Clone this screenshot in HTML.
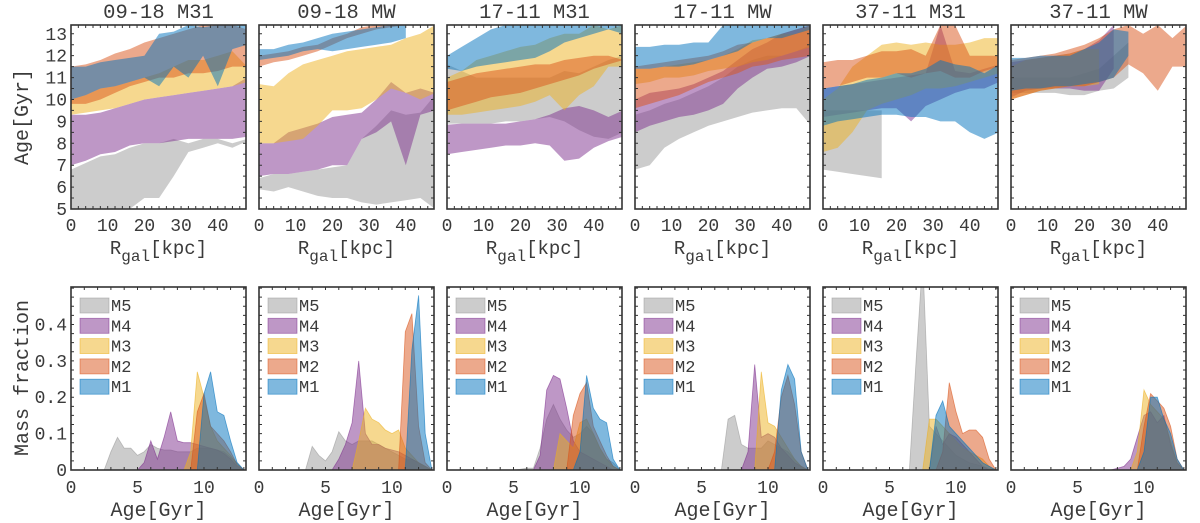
<!DOCTYPE html>
<html><head><meta charset="utf-8"><style>
html,body{margin:0;padding:0;background:#fff;}
svg{display:block;font-family:"Liberation Mono","DejaVu Sans Mono",monospace;}
</style></head><body>
<svg id="fig" width="1200" height="523" viewBox="0 0 1200 523" xmlns="http://www.w3.org/2000/svg"></svg>
<script>
const panelTitles = ["09-18 M31","09-18 MW","17-11 M31","17-11 MW","37-11 M31","37-11 MW"];
const models = ["M1","M2","M3","M4","M5"];
const colors = {M1:"#0072BD",M2:"#D95319",M3:"#EDB120",M4:"#7E2F8E",M5:"#999999"};
const radii = [0,4,8,12,16,20,24,28,32,36,40,44,48];
const N = null;
const ageLo = [
 [[10.0,10.2,10.5,10.6,10.8,11.0,10.6,11.5,11.0,12.0,10.6,12.3,12.5],
  [9.8,9.8,10.0,10.3,10.6,10.8,11.0,11.0,11.2,11.2,11.3,11.5,11.5],
  [9.3,9.4,9.5,9.6,9.8,10.0,10.1,10.2,10.3,10.4,10.5,10.6,10.8],
  [7.0,7.2,7.5,7.6,7.9,8.0,8.0,8.1,8.2,8.2,8.2,8.2,8.3],
  [5,5,5,5,5,5.5,5.5,6.5,7.6,7.8,8.0,7.8,8.1]],
 [[11.8,11.9,12.0,12.2,12.3,12.2,12.3,12.4,12.5,12.6,12.8,N,N],
  [11.5,11.7,11.8,12.0,12.2,12.5,12.8,13.0,13.2,13.3,13.4,13.4,13.4],
  [8.0,8.0,8.1,8.2,8.8,9.5,9.5,9.6,10.0,10.5,10.3,10.0,10.3],
  [6.5,6.6,6.6,6.7,6.8,7.0,7.0,8.2,8.5,9.0,7.0,9.3,9.5],
  [5.9,5.8,6.0,5.8,5.6,5.5,5.5,5.3,5.2,5.3,5.4,5.5,5.0]],
 [[11.4,11.3,11.5,11.6,11.7,11.8,11.9,12.2,12.6,12.8,13.0,13.2,13.0],
  [9.5,9.7,9.9,10.1,10.2,10.3,10.5,10.7,10.9,11.1,11.4,11.6,11.8],
  [9.3,9.3,9.4,9.5,9.6,9.7,9.9,10.2,9.5,10.2,10.6,11.5,11.5],
  [7.5,7.6,7.7,7.8,7.9,7.9,8.0,7.9,7.2,7.3,7.8,8.1,8.3],
  [8.9,8.9,8.9,8.9,9.0,9.0,9.1,9.2,9.0,8.6,8.3,8.2,8.5]],
 [[11.4,11.4,11.5,11.5,11.6,11.8,12.0,12.2,12.6,12.8,12.8,13.0,13.2],
  [9.6,9.8,10.0,10.2,10.5,10.8,11.0,11.2,11.5,11.6,11.8,11.9,12.0],
  [10.7,10.8,11.0,11.0,11.1,11.3,11.4,11.5,11.7,11.8,12.0,12.2,12.4],
  [8.5,8.8,9.0,9.2,9.3,9.5,9.8,10.5,11.0,11.4,11.5,11.7,12.0],
  [6.8,7.0,7.8,8.2,8.5,8.8,9.0,9.2,9.4,9.5,9.6,9.6,8.8]],
 [[8.8,9.0,9.1,9.2,9.3,9.3,9.2,9.2,9.0,9.0,8.5,8.2,8.5],
  [10.5,10.6,10.8,11.0,11.0,11.2,11.0,11.2,11.3,11.0,11.0,11.3,11.5],
  [7.6,7.8,8.5,9.5,9.8,10.0,10.2,10.5,10.5,10.6,10.8,11.0,11.2],
  [9.2,9.3,9.4,9.5,9.6,9.6,9.0,9.7,10.0,10.3,10.5,10.5,10.8],
  [6.8,6.7,6.6,6.5,6.4,N,N,N,N,N,N,N,N]],
 [[10.4,10.5,10.5,10.6,10.6,10.7,10.8,11.0,12.0,N,N,N,N],
  [10.0,10.2,10.4,10.5,10.6,10.6,10.8,11.0,11.6,11.2,10.4,11.5,11.5],
  [10.0,10.2,10.4,10.5,10.6,10.6,10.7,N,N,N,N,N,N],
  [10.1,10.4,10.5,10.5,10.5,10.4,10.4,11.4,N,N,N,N,N],
  [10.3,10.3,10.3,10.3,10.2,10.2,10.4,10.5,11.0,N,N,N,N]]
];
const ageHi = [
 [[11.5,11.5,11.7,11.8,11.9,12.0,13.0,13.1,13.4,13.3,13.4,13.4,13.4],
  [11.5,11.6,11.8,12.1,12.3,12.6,12.8,13.0,13.2,13.4,13.4,13.4,13.2],
  [10.0,10.2,10.5,10.6,10.8,11.0,11.2,11.5,11.8,11.8,12.0,12.2,11.5],
  [9.3,9.3,9.4,9.6,9.8,10.0,10.1,10.2,10.3,10.4,10.5,10.6,11.0],
  [6.8,7.1,7.4,7.5,7.8,8.0,8.0,8.2,8.0,8.2,8.2,8.0,8.2]],
 [[12.3,12.3,12.5,12.6,12.8,13.0,13.1,13.2,13.3,13.4,13.4,N,N],
  [12.0,12.1,12.2,12.4,12.5,12.8,13.0,13.3,13.4,13.4,13.4,13.4,13.4],
  [10.7,10.6,11.2,11.6,11.8,12.0,12.2,12.3,12.4,12.5,12.8,13.0,13.4],
  [8.0,8.0,8.5,8.7,8.9,9.2,9.3,9.4,10.0,10.8,10.3,10.5,10.3],
  [6.4,6.6,6.6,6.7,6.8,6.9,7.0,8.2,8.8,9.5,9.3,9.4,10.2]],
 [[12.0,12.4,12.8,13.2,13.4,13.4,13.4,13.4,13.4,13.4,13.4,13.4,13.4],
  [10.8,11.0,11.2,11.3,11.4,11.5,11.6,11.6,11.8,11.9,12.0,12.0,11.8],
  [11.0,11.3,11.8,12.0,12.2,12.4,12.5,12.8,13.0,13.0,13.4,13.2,13.4],
  [8.85,8.9,8.9,8.9,8.9,9.0,9.1,9.3,9.6,9.7,9.5,9.2,9.5],
  [11.6,11.3,11.0,11.0,11.0,11.0,11.0,11.0,11.3,11.2,11.5,11.8,12.0]],
 [[12.4,12.4,12.5,12.5,12.6,12.6,13.4,13.4,13.4,13.4,13.4,13.4,13.4],
  [11.5,11.6,11.7,11.8,11.9,12.0,12.2,12.5,12.6,12.8,13.0,13.2,13.4],
  [11.4,11.4,11.5,11.6,11.7,11.8,12.0,12.3,12.7,12.8,13.0,13.0,13.4],
  [10.0,10.3,10.4,10.5,10.7,11.0,11.3,11.8,12.3,12.6,13.0,13.2,13.4],
  [9.3,9.5,9.8,10.0,10.3,10.6,11.0,11.5,11.8,12.0,12.0,12.2,12.5]],
 [[10.5,10.6,10.7,10.9,11.0,11.2,11.2,11.4,11.8,11.6,11.5,11.2,11.6],
  [11.7,11.8,11.8,12.0,12.2,12.2,12.3,12.0,13.4,13.4,12.0,12.0,12.0],
  [10.0,10.5,11.5,12.0,12.5,12.6,12.5,12.6,12.5,12.5,12.6,12.8,12.8],
  [10.5,10.6,10.7,10.8,10.9,11.0,11.1,11.2,13.4,11.3,11.2,11.4,11.6],
  [9.5,9.5,9.5,9.5,9.5,N,N,N,N,N,N,N,N]],
 [[11.9,11.9,12.0,12.0,12.0,12.3,12.6,13.2,13.1,N,N,N,N],
  [11.8,11.9,12.0,12.1,12.3,12.5,12.8,13.2,13.4,13.0,13.4,12.8,13.4],
  [11.5,11.8,11.9,12.0,12.1,12.3,12.3,N,N,N,N,N,N],
  [11.7,11.8,11.9,12.0,12.1,12.3,12.7,13.4,N,N,N,N,N],
  [11.0,11.0,11.0,11.0,11.0,11.2,11.4,12.0,12.6,N,N,N,N]]
];
const histStart = [
 [9.0,9.0,8.5,5.0,2.5],
 [11.0,10.5,7.0,5.5,3.5],
 [9.5,8.5,8.0,6.5,5.0],
 [10.5,10.0,9.0,8.0,6.5],
 [8.0,8.5,7.5,8.0,6.5],
 [9.5,9.5,9.0,7.5,13.0]
];
const histVals = [
 [[0,0.0,0.21,0.27,0.16,0.15,0.08,0.02,0],
  [0,0.16,0.21,0.12,0.10,0.08,0.05,0.015,0],
  [0,0.05,0.27,0.20,0.12,0.08,0.06,0.04,0.015,0],
  [0,0.02,0.08,0.03,0.09,0.16,0.08,0.075,0.075,0.07,0.065,0.06,0.055,0.045,0.03,0.01,0],
  [0,0.05,0.09,0.06,0.06,0.04,0.05,0.07,0.06,0.055,0.055,0.05,0.05,0.05,0.06,0.06,0.06,0.055,0.05,0.035,0.02,0]],
 [[0,0.33,0.48,0.10,0],
  [0,0.38,0.43,0.12,0.02,0],
  [0,0.08,0.17,0.14,0.13,0.11,0.10,0.11,0.06,0.04,0.02,0.01,0],
  [0,0.03,0.07,0.13,0.30,0.10,0.07,0.07,0.06,0.055,0.05,0.04,0.03,0.02,0.01,0],
  [0,0.065,0.04,0.025,0.05,0.105,0.08,0.07,0.08,0.08,0.08,0.07,0.06,0.05,0.04,0.03,0.03,0.02,0.01,0]],
 [[0,0.05,0.26,0.17,0.14,0.13,0.03,0],
  [0,0.0,0.15,0.21,0.24,0.12,0.08,0.04,0.01,0],
  [0,0.10,0.08,0.06,0.13,0.14,0.10,0.06,0.03,0.01,0],
  [0,0.04,0.22,0.26,0.25,0.17,0.08,0.05,0.04,0.03,0.02,0.01,0],
  [0,0.002,0.005,0.005,0.06,0.14,0.18,0.14,0.11,0.09,0.10,0.12,0.10,0.06,0.03,0.02,0]],
 [[0,0.22,0.29,0.25,0.05,0],
  [0,0.05,0.20,0.26,0.18,0.05,0],
  [0,0.27,0.13,0.12,0.09,0.06,0.03,0.01,0],
  [0,0.05,0.29,0.09,0.10,0.09,0.06,0.04,0.02,0.01,0],
  [0,0.14,0.15,0.07,0.06,0.06,0.06,0.08,0.07,0.06,0.05,0.03,0.01,0]],
 [[0,0.15,0.19,0.12,0.10,0.08,0.06,0.04,0.02,0.01,0],
  [0,0.05,0.24,0.16,0.10,0.11,0.11,0.09,0.03,0],
  [0,0.14,0.14,0.12,0.10,0.08,0.06,0.05,0.04,0.03,0.01,0],
  [0,0.12,0.07,0.10,0.09,0.07,0.05,0.03,0.01,0,0],
  [0,0.30,0.58,0.12,0.10,0.08,0.06,0.04,0.03,0.02,0.015,0.01,0.005,0]],
 [[0,0.05,0.20,0.20,0.14,0.10,0.03,0],
  [0,0.12,0.21,0.19,0.17,0.12,0.03,0],
  [0,0.05,0.22,0.18,0.16,0.14,0.08,0.02,0],
  [0,0.005,0.01,0.03,0.09,0.15,0.16,0.13,0.15,0.07,0.02,0],
  [0]]
];
const topXTicks = [0,10,20,30,40];
const topYTicks = [5,6,7,8,9,10,11,12,13];
const botXTicks = [0,5,10];
const botYTicks = [0,0.1,0.2,0.3,0.4];
const botYLabels = ["0","0.1","0.2","0.3","0.4"];

const NS = "http://www.w3.org/2000/svg";
const svg = document.getElementById("fig");
function mk(tag, attrs, parent){ const e=document.createElementNS(NS,tag); for(const k in attrs) e.setAttribute(k,attrs[k]); (parent||svg).appendChild(e); return e; }

const PX0=71, PW=175, PITCH=188;
const TOP={y0:25,y1:209,xmin:0,xmax:47.7,ymin:5,ymax:13.4};
const BOT={y0:287,y1:470,xmin:0,xmax:13.16,ymin:0,ymax:0.503};

function scales(p, cfg){
  const x0=PX0+p*PITCH;
  return {x:v=>x0+(v-cfg.xmin)/(cfg.xmax-cfg.xmin)*PW, y:v=>cfg.y1-(v-cfg.ymin)/(cfg.ymax-cfg.ymin)*(cfg.y1-cfg.y0), x0:x0};
}
function frame(p,cfg,sc,minorX,minorY,row){
  const g=mk("g",{});
  
  
  let d="";
  for(let v=cfg.xmin; v<=cfg.xmax+1e-9; v+=minorX){ const X=sc.x(v); d+=`M${X},${cfg.y1}v-3M${X},${cfg.y0}v3`; }
  for(let v=cfg.ymin; v<=cfg.ymax+1e-9; v+=minorY){ const Y=sc.y(v); d+=`M${sc.x0},${Y}h3M${sc.x0+PW},${Y}h-3`; }
  mk("path",{d:d,stroke:"#333","stroke-width":1,fill:"none"},g);
  mk("rect",{x:sc.x0,y:cfg.y0,width:PW,height:cfg.y1-cfg.y0,fill:"none",stroke:"#333","stroke-width":1.6},g);
}
function txt(s,x,y,size,anchor,name,parent){
  const t=mk("text",{x:x,y:y,"font-size":size,"text-anchor":anchor||"middle",fill:"#3a3a3a"},parent);
  t.textContent=s;
  
  
  return t;
}

for(let p=0;p<6;p++){
  const sc=scales(p,TOP);
  const clip=mk("clipPath",{id:"ct"+p}); mk("rect",{x:sc.x0,y:TOP.y0,width:PW,height:TOP.y1-TOP.y0},clip);
  const gt=mk("g",{"clip-path":`url(#ct${p})`});
  
  
  for(let m=4;m>=0;m--){
    const lo=ageLo[p][m], hi=ageHi[p][m];
    const up=[], dn=[];
    for(let i=0;i<radii.length;i++){ if(lo[i]===null||hi[i]===null) continue; up.push([sc.x(radii[i]),sc.y(hi[i])]); dn.push([sc.x(radii[i]),sc.y(lo[i])]); }
    if(!up.length) continue;
    const pts=up.concat(dn.reverse()).map(q=>q[0].toFixed(1)+","+q[1].toFixed(1)).join(" ");
    const poly=mk("polygon",{points:pts,fill:colors[models[m]],"fill-opacity":0.5,stroke:"none"},gt);
    
    
  }
  frame(p,TOP,sc,2,0.5,'top');
  txt(panelTitles[p],sc.x0+PW/2,18,20.5,"middle","panel-title");
  topXTicks.forEach(v=>txt(String(v),sc.x(v),231,18,"middle","x-tick-label"));
  if(p===0) topYTicks.forEach(v=>txt(String(v),sc.x0-4,sc.y(v)+6,18,"end","y-tick-label"));
  const xl=txt("",sc.x0+PW/2,254,19,"middle","x-axis-title");
  xl.innerHTML='R<tspan font-size="16" dy="7">gal</tspan><tspan dy="-7">[kpc]</tspan>';

  const sb=scales(p,BOT);
  const clip2=mk("clipPath",{id:"cb"+p}); mk("rect",{x:sb.x0,y:BOT.y0,width:PW,height:BOT.y1-BOT.y0},clip2);
  const gb=mk("g",{"clip-path":`url(#cb${p})`});
  
  
  for(let m=4;m>=0;m--){
    const vals=histVals[p][m], a0=histStart[p][m];
    if(vals.length<2) continue;
    let pts=[[sb.x(a0),sb.y(0)]];
    vals.forEach((v,i)=>pts.push([sb.x(a0+0.5*i),sb.y(v)]));
    pts.push([sb.x(a0+0.5*(vals.length-1)),sb.y(0)]);
    const poly=mk("polygon",{points:pts.map(q=>q[0].toFixed(1)+","+q[1].toFixed(1)).join(" "),fill:colors[models[m]],"fill-opacity":0.5,stroke:colors[models[m]],"stroke-opacity":0.6,"stroke-width":0.8},gb);
    
    
  }
  frame(p,BOT,sb,1,0.025,'bottom');
  botXTicks.forEach(v=>txt(String(v),sb.x(v),493,18,"middle","x-tick-label"));
  if(p===0) botYTicks.forEach((v,i)=>txt(botYLabels[i],sb.x0-4,sb.y(v)+6,18,"end","y-tick-label"));
  txt("Age[Gyr]",sb.x0+PW/2,516,20,"middle","x-axis-title");
  const lg=mk("g",{});
  
  
  ["M5","M4","M3","M2","M1"].forEach((m,i)=>{
    const y=298+i*20.3;
    const r=mk("rect",{x:sb.x0+9,y:y,width:29,height:15,fill:colors[m],"fill-opacity":0.5,stroke:colors[m],"stroke-opacity":0.6,"stroke-width":0.8},lg);
    
    
    txt(m,sb.x0+40,y+13,17,"start","legend-entry",lg);
  });
}
const yt1=txt("Age[Gyr]",0,0,20,"middle","y-axis-title");
yt1.setAttribute("transform","translate(28,117) rotate(-90)");
const yt2=txt("Mass fraction",0,0,20,"middle","y-axis-title");
yt2.setAttribute("transform","translate(28,378) rotate(-90)");
</script>
</body></html>
